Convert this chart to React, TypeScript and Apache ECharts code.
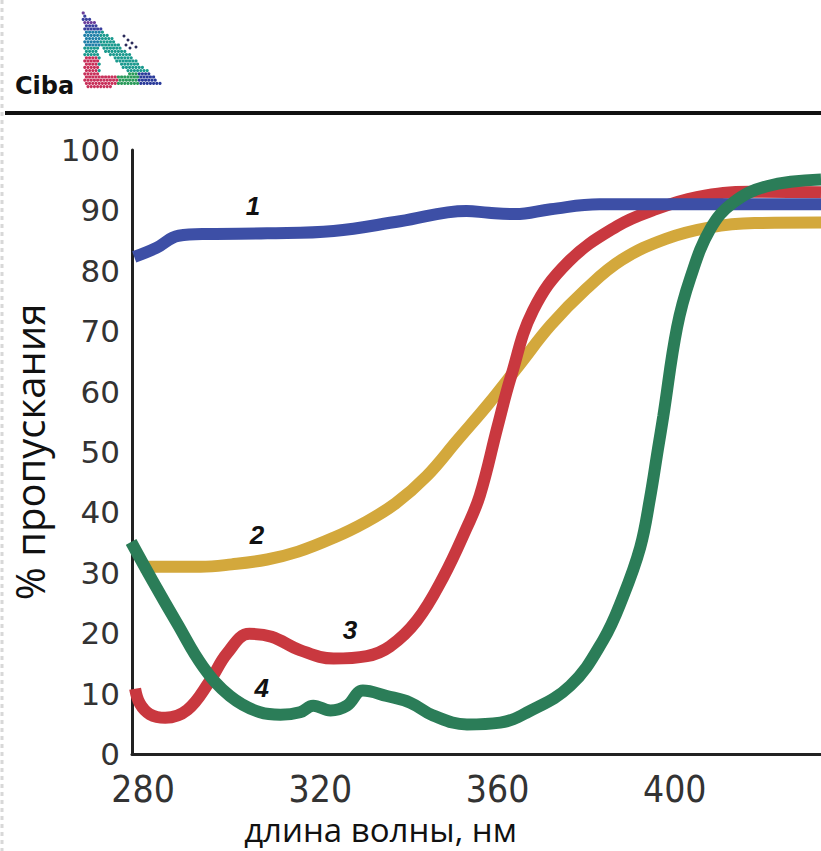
import React, { useEffect, useRef } from "react";
import * as echarts from "echarts";

// Wavelength (nm) and transmission (%) for each curve
const curve1Nm = [278, 283, 288, 295, 308, 323, 338, 353, 358, 364, 372, 383, 405, 433];
const curve1T = [82.3, 83.8, 85.8, 86.1, 86.2, 86.6, 88.2, 89.9, 89.6, 89.4, 90.2, 91, 91, 91];

const curve2Nm = [279.5, 285, 293, 300, 308, 315, 323, 330, 337, 344, 351, 358, 365, 372, 380, 388, 398, 408, 418, 433];
const curve2T = [31, 31, 31, 31.4, 32.2, 33.5, 35.8, 38.3, 41.5, 46, 52, 58, 64.5, 71, 77, 81.8, 85.3, 87.2, 87.9, 88];

const curve3Nm = [278.2, 279.3, 281.5, 285, 290, 295, 299, 304, 309, 315.4, 323, 330.5, 335.7, 341.8, 347.7, 353, 356, 360, 363, 368, 376, 387, 395, 405, 417, 433];
const curve3T = [10.8, 8.3, 6.6, 6, 7.3, 12, 16.7, 19.9, 19.4, 17.2, 15.8, 16.2, 17.8, 22.1, 29.2, 37.4, 42.8, 54.2, 62.4, 73.4, 81.5, 87.4, 90, 92.2, 93.1, 93];

const curve4Nm = [277.3, 282.2, 287.7, 293.5, 299.6, 306.4, 311, 315.4, 318.4, 322.3, 326, 329.6, 335, 340.3, 345.4, 353.1, 360.6, 366.7, 376.4, 383.8, 388.3, 392.2, 394.4, 396.2, 397.4, 400.5, 403.5, 408, 413.2, 420.8, 433];
const curve4T = [35.1, 28.6, 21.6, 14.5, 9.6, 6.9, 6.5, 6.9, 8, 7.2, 8, 10.5, 9.6, 8.5, 6.4, 4.9, 5.2, 6.9, 11.3, 18.8, 26, 34.2, 42.3, 50.5, 55.9, 70.6, 78.8, 86.9, 91.3, 94, 95.1];

const xTicks = [280, 320, 360, 400];
const curveNames = ["1", "2", "3", "4"];
const labelCoords: [number, number][] = [
  [304.8, 90.7],
  [305.7, 36.3],
  [326.7, 20.6],
  [306.8, 10.9],
];

const COLORS = ["#3d4fa6", "#d3a83c", "#c9383f", "#2b7d58"];

function pairs(xs: number[], ys: number[]) {
  return xs.map((x, i) => [x, ys[i]]);
}

function logoDots() {
  const A = [83, 12], B = [85, 88], C = [162, 84];
  const distLine = (p: number[], a: number[], b: number[]) => {
    const dx = b[0] - a[0], dy = b[1] - a[1];
    return Math.abs(dy * (p[0] - a[0]) - dx * (p[1] - a[1])) / Math.hypot(dx, dy);
  };
  const sign = (p: number[], a: number[], b: number[]) =>
    (p[0] - b[0]) * (a[1] - b[1]) - (a[0] - b[0]) * (p[1] - b[1]);
  const inside = (p: number[]) => {
    const d1 = sign(p, A, B), d2 = sign(p, B, C), d3 = sign(p, C, A);
    const neg = d1 < 0 || d2 < 0 || d3 < 0;
    const pos = d1 > 0 || d2 > 0 || d3 > 0;
    return !(neg && pos);
  };
  const els: any[] = [];
  const step = 3.2;
  for (let y = 13; y <= 88; y += step) {
    const row = Math.round((y - 13) / step);
    for (let x = 80 + (row % 2) * step / 2; x <= 164; x += step) {
      const p = [x, y];
      if (!inside(p)) continue;
      const dAC = distLine(p, A, C), dAB = distLine(p, A, B), dBC = distLine(p, B, C);
      if (!(dAC < 14 || dAB < 15 || dBC < 12)) continue;
      let c = "#1a9a8e";
      if (y < 30) c = (row % 3 === 0) ? "#6a3d9a" : "#3a3f9e";
      else if (y < 46 && x < 100) c = "#1f7fa8";
      else if (dBC < 12 && x < 118) c = "#c8305a";
      else if (dBC < 12 && x < 138) c = "#2a9a5a";
      else if (dBC < 12) c = "#2a3a9a";
      else if (x < 98 && y > 55) c = "#c8305a";
      els.push({ type: "circle", shape: { cx: x, cy: y, r: 1.6 }, style: { fill: c }, silent: true });
    }
  }
  const spots = [[124, 36], [128, 40], [126, 45], [132, 43], [136, 47], [130, 48]];
  spots.forEach(([x, y]) =>
    els.push({ type: "circle", shape: { cx: x, cy: y, r: 1.5 }, style: { fill: "#2a2a5a" }, silent: true })
  );
  return els;
}

export default function App() {
  const ref = useRef<HTMLDivElement>(null);
  useEffect(() => {
    if (!ref.current) return;
    const chart = echarts.init(ref.current, undefined, { renderer: "svg" });
    const series: any[] = [
      { data: pairs(curve2Nm, curve2T), color: COLORS[1], idx: 1 },
      { data: pairs(curve3Nm, curve3T), color: COLORS[2], idx: 2 },
      { data: pairs(curve1Nm, curve1T), color: COLORS[0], idx: 0 },
      { data: pairs(curve4Nm, curve4T), color: COLORS[3], idx: 3 },
    ].map((s) => ({
      type: "line",
      name: curveNames[s.idx],
      data: s.data,
      symbol: "none",
      smooth: 0.4,
      clip: false,
      lineStyle: { width: 12, color: s.color },
      itemStyle: { color: s.color },
      markPoint: {
        symbol: "circle",
        symbolSize: 1,
        itemStyle: { color: "rgba(0,0,0,0)" },
        label: {
          show: true,
          position: "inside",
          formatter: curveNames[s.idx],
          fontSize: 26,
          fontWeight: "bold",
          fontStyle: "italic",
          fontFamily: "Liberation Sans, Arial, sans-serif",
          color: "#111",
        },
        data: [{ coord: labelCoords[s.idx] }],
      },
    }));

    chart.setOption({
      animation: false,
      backgroundColor: "#ffffff",
      grid: { left: 132, right: 0, top: 150, bottom: 89, containLabel: false },
      xAxis: {
        type: "value",
        min: 277.5,
        max: 433,
        axisLine: { show: true, lineStyle: { color: "#222", width: 3 } },
        axisTick: { show: false },
        splitLine: { show: false },
        axisLabel: {
          customValues: xTicks,
          fontSize: 37,
          fontFamily: "Liberation Sans Narrow, DejaVu Sans Condensed, sans-serif",
          color: "#333",
          margin: 17,
        },
        name: "длина волны, нм",
        nameLocation: "middle",
        nameGap: 59,
        nameTextStyle: {
          fontSize: 33,
          fontFamily: "Open Sans, sans-serif",
          color: "#111",
          padding: [0, 192, 0, 0],
        },
      },
      yAxis: {
        type: "value",
        min: 0,
        max: 100,
        interval: 10,
        axisLine: { show: true, lineStyle: { color: "#222", width: 3 } },
        axisTick: { show: false },
        splitLine: { show: false },
        axisLabel: {
          fontSize: 31,
          fontFamily: "DejaVu Sans, sans-serif",
          color: "#333",
          margin: 12,
          padding: [0, 0, 6, 0],
        },
        name: "% пропускания",
        nameLocation: "middle",
        nameGap: 80,
        nameRotate: 90,
        nameTextStyle: {
          fontSize: 40,
          fontFamily: "Open Sans, sans-serif",
          color: "#111",
        },
      },
      graphic: [
        {
          type: "line",
          shape: { x1: 5, y1: 113, x2: 821, y2: 113 },
          style: { stroke: "#111", lineWidth: 4 },
          silent: true,
        },
        {
          type: "line",
          shape: { x1: 2, y1: 0, x2: 2, y2: 851 },
          style: { stroke: "#d8d8d8", lineWidth: 3, lineDash: [4, 4] },
          silent: true,
        },
        {
          type: "text",
          left: 15,
          top: 74,
          style: {
            text: "Ciba",
            fontSize: 24,
            fontWeight: "bold",
            fontFamily: "DejaVu Sans, sans-serif",
            fill: "#111",
          },
          silent: true,
        },
        ...logoDots(),
      ],
      series,
    });
    return () => chart.dispose();
  }, []);
  return (
    <div
      ref={ref}
      style={{ position: "fixed", left: 0, top: 0, width: 821, height: 851 }}
    />
  );
}
